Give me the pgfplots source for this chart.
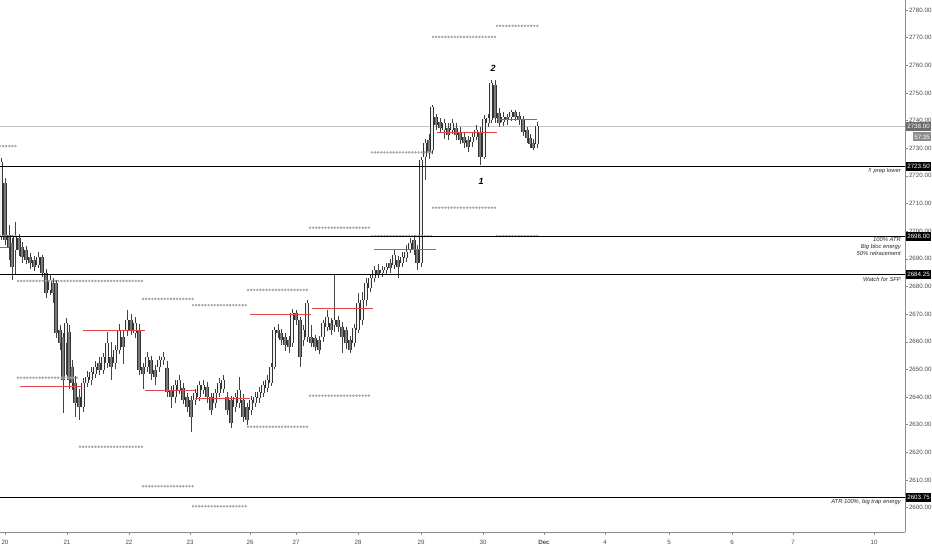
\documentclass[border=0pt]{standalone}
\usepackage{pgfplots}
\pgfplotsset{compat=1.18}
\usepackage{pgfplotstable}
\usepackage{fontspec}
\setmainfont{Liberation Sans}

\definecolor{wickc}{HTML}{444444}
\definecolor{edgec}{HTML}{333333}
\definecolor{downc}{HTML}{7A7A7A}
\definecolor{upc}{HTML}{F2F2F2}
\definecolor{levelc}{HTML}{A6A6A6}
\definecolor{pivotc}{HTML}{E0474C}
\definecolor{tickc}{HTML}{4A4A4A}
\definecolor{axisc}{HTML}{8C8C8C}

% candles, x = horizontal position on the chart, o h l c in points
\pgfplotstableread{
x o h l c
1 2698.25 2726.5 2696.75 2725.0
15 2693.25 2703.25 2684.25 2697.75
38 2687.75 2692.5 2686.5 2690.75
50 2678.75 2684.0 2677.0 2682.5
66 2659.5 2668.5 2648.0 2666.75
83 2636.5 2647.0 2634.5 2645.0
87 2645.0 2649.5 2643.5 2647.25
91 2646.25 2651.0 2644.5 2649.0
95 2648.5 2653.0 2647.0 2651.0
103 2649.75 2656.0 2648.5 2654.5
107 2652.25 2663.5 2650.5 2659.5
115 2652.25 2659.0 2650.0 2657.0
119 2657.0 2666.5 2655.5 2664.25
127 2664.25 2671.5 2662.0 2668.0
135 2663.25 2669.0 2661.5 2666.75
147 2651.0 2656.25 2649.0 2654.5
159 2651.0 2655.0 2649.0 2653.5
163 2653.5 2656.25 2651.5 2654.5
175 2640.0 2646.0 2638.0 2644.5
179 2642.5 2648.0 2641.0 2646.25
195 2639.0 2643.0 2637.0 2641.5
199 2640.0 2646.0 2638.5 2644.5
203 2642.5 2646.25 2641.0 2644.5
215 2637.75 2643.0 2636.0 2641.5
219 2641.5 2647.0 2640.0 2645.0
223 2643.0 2648.0 2641.5 2646.25
235 2636.5 2641.5 2634.5 2640.0
239 2638.0 2647.25 2636.0 2642.5
251 2635.25 2640.5 2633.5 2639.0
255 2638.0 2642.0 2636.5 2640.0
259 2639.75 2643.5 2638.0 2642.0
263 2641.5 2646.0 2640.0 2644.5
267 2643.25 2648.0 2642.0 2646.25
271 2645.0 2652.5 2644.0 2651.0
274 2651.0 2665.5 2650.0 2664.25
292 2659.5 2672.0 2658.0 2670.5
303 2660.5 2666.0 2658.5 2664.25
307 2661.75 2675.0 2660.0 2674.0
323 2661.75 2668.0 2660.0 2666.75
327 2665.25 2671.5 2664.0 2669.0
334 2666.0 2684.5 2663.5 2668.0
354 2659.5 2666.5 2658.0 2665.0
358 2664.25 2677.5 2663.0 2674.0
362 2668.0 2678.0 2666.0 2675.0
366 2675.0 2683.0 2673.0 2681.25
370 2679.5 2684.5 2678.0 2683.0
374 2683.0 2687.5 2681.5 2686.0
382 2684.75 2687.5 2683.5 2686.0
386 2686.0 2688.5 2684.5 2687.0
394 2687.75 2693.5 2686.5 2691.5
402 2688.5 2692.5 2687.0 2690.75
406 2690.25 2695.0 2689.0 2692.5
410 2693.25 2697.5 2692.0 2695.75
421 2688.5 2727.0 2687.0 2725.75
425 2726.75 2733.5 2718.5 2732.0
432 2729.5 2745.5 2728.0 2745.0
444 2736.5 2740.5 2733.5 2739.0
452 2736.5 2740.5 2735.0 2739.0
472 2732.25 2735.5 2730.5 2734.0
476 2734.0 2738.5 2733.0 2736.5
484 2727.0 2742.0 2726.0 2740.5
488 2739.0 2742.5 2737.5 2741.0
491 2740.25 2754.75 2739.0 2753.5
503 2739.5 2743.0 2738.0 2741.25
511 2741.25 2743.75 2740.0 2743.0
537 2731.5 2739.5 2730.0 2738.0
}\upcandles

\pgfplotstableread{
x o h l c
5 2717.5 2719.25 2695.0 2696.75
9 2698.5 2702.25 2689.5 2694.25
12 2695.75 2697.5 2682.5 2687.0
19 2697.5 2699.0 2691.0 2693.25
22 2694.25 2696.0 2688.5 2690.75
26 2693.25 2694.5 2688.0 2689.5
30 2690.75 2692.0 2686.5 2688.5
34 2689.5 2691.0 2685.5 2687.0
42 2690.5 2691.5 2683.5 2685.0
46 2685.0 2686.5 2676.0 2677.5
53 2681.25 2683.0 2674.0 2677.5
56 2681.25 2682.5 2661.5 2663.25
60 2664.25 2666.0 2657.0 2659.5
63 2661.75 2663.0 2634.25 2646.25
69 2663.5 2666.0 2643.0 2646.25
72 2651.0 2653.5 2642.5 2645.0
75 2645.0 2647.5 2632.75 2637.75
79 2640.0 2643.0 2631.75 2636.5
99 2652.25 2654.5 2648.0 2649.75
111 2654.5 2660.0 2646.0 2651.0
123 2661.75 2664.0 2652.0 2658.0
131 2668.0 2670.0 2662.5 2664.25
139 2664.25 2666.5 2648.0 2649.75
143 2651.0 2652.5 2643.0 2648.5
151 2653.5 2655.0 2646.25 2648.5
155 2649.75 2651.5 2644.5 2647.25
167 2650.5 2653.0 2640.0 2642.0
171 2642.5 2644.0 2636.0 2640.0
183 2643.25 2645.0 2637.5 2639.0
187 2640.0 2641.5 2634.5 2636.5
191 2639.0 2640.5 2627.5 2632.75
207 2643.75 2645.5 2638.0 2640.0
211 2640.0 2641.5 2633.5 2635.25
227 2640.0 2642.0 2633.5 2635.25
231 2639.0 2640.5 2628.75 2630.5
243 2639.0 2641.0 2631.0 2632.75
247 2636.5 2638.0 2630.0 2631.75
278 2664.25 2666.5 2661.5 2663.25
281 2663.25 2664.5 2659.0 2660.5
285 2661.75 2663.0 2656.5 2658.75
289 2660.5 2662.0 2656.0 2658.0
296 2670.5 2671.5 2666.0 2668.0
300 2668.0 2669.0 2651.0 2654.5
311 2661.75 2666.0 2658.0 2659.5
315 2661.25 2662.5 2656.5 2658.0
319 2660.5 2662.0 2655.5 2657.0
331 2666.75 2668.5 2662.5 2664.25
338 2668.0 2669.5 2663.5 2665.25
342 2665.25 2667.0 2656.0 2661.75
346 2664.25 2665.5 2657.5 2659.5
350 2660.5 2662.0 2656.0 2657.0
378 2686.0 2688.0 2683.0 2684.25
390 2688.5 2690.0 2685.0 2686.75
398 2689.5 2691.0 2683.0 2687.0
414 2696.75 2698.5 2691.5 2693.25
417 2693.25 2695.0 2686.0 2688.5
429 2733.0 2735.0 2726.0 2728.25
436 2741.25 2742.5 2736.5 2738.5
440 2739.5 2741.0 2735.5 2737.25
448 2737.25 2739.0 2733.0 2734.75
456 2737.25 2739.0 2733.0 2734.75
460 2736.0 2737.5 2731.5 2733.0
464 2734.0 2735.5 2730.0 2732.0
468 2733.0 2734.5 2728.5 2730.5
480 2735.5 2737.5 2724.0 2726.75
495 2753.0 2754.5 2739.0 2741.0
499 2742.75 2744.5 2737.5 2739.0
507 2741.25 2742.5 2738.5 2740.25
515 2743.0 2744.0 2740.0 2741.25
519 2741.5 2743.0 2738.5 2740.25
523 2740.25 2741.5 2734.5 2736.0
527 2736.5 2737.5 2732.0 2733.75
530 2733.75 2735.0 2730.0 2731.5
533 2732.0 2733.5 2729.5 2730.0
}\downcandles

\pgfplotsset{
  nomark/.style={only marks, mark=*, mark size=0pt,
    mark options={draw opacity=0, fill opacity=0}, forget plot},
  wick/.style={nomark,
    error bars/.cd, y dir=both, y explicit, error mark=none,
    error bar style={wickc, line width=0.8pt}},
  bodyedge/.style={nomark,
    error bars/.cd, y dir=both, y explicit, error mark=-,
    error mark options={edgec, line width=0.6pt, mark size=1.65pt},
    error bar style={edgec, line width=3.3pt}},
  bodyfill/.style={nomark,
    error bars/.cd, y dir=both, y explicit, error mark=none,
    error bar style={#1, line width=2.0pt}},
  level/.style={levelc, line width=2.7pt, dash pattern=on 0pt off 3.1pt, line cap=round, forget plot},
  pivot/.style={pivotc, line width=0.8pt, forget plot},
  keyline/.style={black, line width=1.2pt, forget plot},
}
\tikzset{
  pricebox/.style={anchor=west, text=white, inner xsep=1.6pt, inner ysep=0pt,
    minimum height=9pt, font=\fontsize{6.2}{7}\selectfont},
  note/.style={anchor=north east, inner sep=0pt, align=right, text=black!85,
    font=\itshape\fontsize{5.8}{7}\selectfont},
}

\begin{document}
\begin{tikzpicture}
\useasboundingbox (0,-18pt) rectangle (932pt,532pt);
\begin{axis}[
  at={(0,0)}, anchor=south west,
  scale only axis, width=905pt, height=532pt,
  xmin=0, xmax=905, ymin=2591.2, ymax=2783.6,
  axis x line*=bottom, axis y line*=right,
  axis line style={axisc, line width=0.6pt},
  tick style={axisc, line width=0.5pt},
  tick align=outside, major tick length=2.5pt,
  xtick={5,67,129,190,250,296,358,421,483,544,605,669,732,793,874},
  xticklabels={20,21,22,23,26,27,28,29,30,\textbf{Dec},4,5,6,7,10},
  ytick={2600,2610,...,2780},
  tick label style={font=\fontsize{6.2}{7}\selectfont, text=tickc},
  xticklabel shift=2pt,
  yticklabel shift=-2pt,
  yticklabel style={/pgf/number format/.cd, fixed, fixed zerofill, precision=2,
    1000 sep={}, assume math mode=true},
  clip mode=individual,
  unbounded coords=jump,
]

% last price line
\addplot[gray!45, line width=0.5pt, forget plot] coordinates {(0,2738) (905,2738)};

% wicks
\addplot[wick] table[x=x, y expr=(\thisrow{h}+\thisrow{l})/2, y error expr=(\thisrow{h}-\thisrow{l})/2] {\upcandles};
\addplot[wick] table[x=x, y expr=(\thisrow{h}+\thisrow{l})/2, y error expr=(\thisrow{h}-\thisrow{l})/2] {\downcandles};
% bodies
\addplot[bodyedge] table[x=x, y expr=(\thisrow{o}+\thisrow{c})/2, y error expr=abs(\thisrow{c}-\thisrow{o})/2] {\upcandles};
\addplot[bodyedge] table[x=x, y expr=(\thisrow{o}+\thisrow{c})/2, y error expr=abs(\thisrow{c}-\thisrow{o})/2] {\downcandles};
\addplot[bodyfill=upc] table[x=x, y expr=(\thisrow{o}+\thisrow{c})/2, y error expr=abs(\thisrow{c}-\thisrow{o})/2] {\upcandles};
\addplot[bodyfill=downc] table[x=x, y expr=(\thisrow{o}+\thisrow{c})/2, y error expr=abs(\thisrow{c}-\thisrow{o})/2] {\downcandles};

% daily range levels
\addplot[level] coordinates {
  (0,2730.75) (18,2730.75) (18,nan) (18,2682.0) (143,2682.0) (143,nan)
  (143,2675.5) (193,2675.5) (193,nan) (193,2673.25) (248,2673.25) (248,nan)
  (248,2678.75) (310,2678.75) (310,nan) (310,2701.25) (372,2701.25) (372,nan)
  (372,2728.5) (433,2728.5) (433,nan) (433,2770.25) (497,2770.25) (497,nan)
  (497,2774.25) (540,2774.25)};
\addplot[level] coordinates {
  (0,2698.25) (18,2698.25) (18,nan) (18,2647.0) (80,2647.0) (80,nan)
  (80,2622.0) (143,2622.0) (143,nan) (143,2607.75) (193,2607.75) (193,nan)
  (193,2600.5) (248,2600.5) (248,nan) (248,2629.25) (310,2629.25) (310,nan)
  (310,2640.5) (372,2640.5) (372,nan) (372,2698.25) (433,2698.25) (433,nan)
  (433,2708.5) (497,2708.5) (497,nan) (497,2698.25) (540,2698.25)};

% daily midpoints
\addplot[pivot] coordinates {
  (0,2694.25) (9,2694.25) (9,nan) (20,2644.0) (82,2644.0) (82,nan)
  (83,2664.25) (145,2664.25) (145,nan) (145,2642.25) (195,2642.25) (195,nan)
  (195,2639.5) (250,2639.5) (250,nan) (250,2670.0) (311,2670.0) (311,nan)
  (312,2672.0) (373,2672.0) (373,nan) (374,2693.25) (436,2693.25) (436,nan)
  (437,2735.75) (497,2735.75) (497,nan) (497,2740.25) (537,2740.25)};

% key levels
\addplot[keyline] coordinates {(0,2723.5) (905,2723.5)};
\addplot[keyline] coordinates {(0,2698.0) (905,2698.0)};
\addplot[keyline] coordinates {(0,2684.25) (905,2684.25)};
\addplot[keyline] coordinates {(0,2603.75) (905,2603.75)};

\node[note, yshift=-2pt] at (axis cs:901,2723.5) {!! prep lower};
\node[note, yshift=-1pt] at (axis cs:901,2698.0) {100\% ATR\\Big bloc energy\\50\% retracement};
\node[note, yshift=-2pt] at (axis cs:901,2684.25) {Watch for SFP};
\node[note, yshift=-2pt] at (axis cs:901,2603.75) {ATR 100\%, big trap energy};

\node[font=\bfseries\itshape\fontsize{9}{9}\selectfont] at (axis cs:493,2758.7) {2};
\node[font=\bfseries\itshape\fontsize{9}{9}\selectfont] at (axis cs:481,2718.1) {1};

\node[pricebox, fill=black] at (axis cs:905.5,2723.5) {2723.50};
\node[pricebox, fill=black] at (axis cs:905.5,2698.0) {2698.00};
\node[pricebox, fill=black] at (axis cs:905.5,2684.25) {2684.25};
\node[pricebox, fill=black] at (axis cs:905.5,2603.75) {2603.75};
\node[pricebox, fill=black!58] at (axis cs:905.5,2738.0) {2738.00};
\node[pricebox, fill=black!45, xshift=7pt] at (axis cs:905.5,2734.07) {57:35};
\end{axis}
\end{tikzpicture}
\end{document}
